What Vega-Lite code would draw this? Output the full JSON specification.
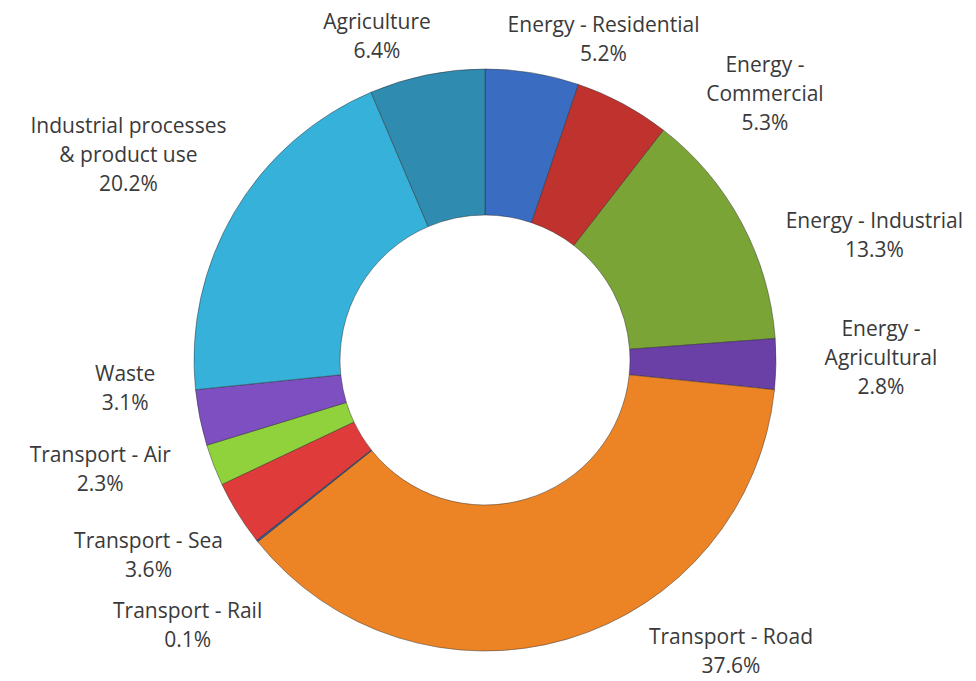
{
  "$schema": "https://vega.github.io/schema/vega-lite/v6.json",
  "width": 976,
  "height": 681,
  "autosize": {"type": "fit", "contains": "padding"},
  "padding": {"left": 0, "right": 6, "top": 31, "bottom": 0},
  "background": "white",
  "config": {"view": {"stroke": null}, "text": {"font": "Open Sans", "fontSize": 21, "lineBreak": "|", "lineHeight": 29, "fill": "#3a3a3a", "align": "center", "baseline": "middle"}},
  "data": {
    "values": [
      {"name": "Energy - Residential", "label": "Energy - Residential", "value": 5.2},
      {"name": "Energy - Commercial", "label": "Energy -|Commercial", "value": 5.3},
      {"name": "Energy - Industrial", "label": "Energy - Industrial", "value": 13.3},
      {"name": "Energy - Agricultural", "label": "Energy -|Agricultural", "value": 2.8},
      {"name": "Transport - Road", "label": "Transport - Road", "value": 37.6},
      {"name": "Transport - Rail", "label": "Transport - Rail", "value": 0.1},
      {"name": "Transport - Sea", "label": "Transport - Sea", "value": 3.6},
      {"name": "Transport - Air", "label": "Transport - Air", "value": 2.3},
      {"name": "Waste", "label": "Waste", "value": 3.1},
      {"name": "Industrial processes & product use", "label": "Industrial processes|& product use", "value": 20.2},
      {"name": "Agriculture", "label": "Agriculture", "value": 6.4}
    ]
  },
  "transform": [
    {"window": [{"op": "row_number", "as": "rank"}]},
    {"stack": "value", "groupby": [], "sort": [{"field": "rank", "order": "ascending"}], "as": ["v0", "v1"]},
    {"calculate": "(datum.v0 + datum.v1) / 2", "as": "mid"},
    {"calculate": "datum.label + '|' + format(datum.value, '.1f') + '%'", "as": "text"}
  ],
  "layer": [
    {
      "mark": {"type": "arc", "innerRadius": 145, "outerRadius": 291, "stroke": "#2a2a2a", "strokeWidth": 1, "strokeOpacity": 0.45},
      "encoding": {
        "theta": {"field": "v0", "type": "quantitative", "scale": {"domain": [0, 99.9], "nice": false, "zero": true}},
        "theta2": {"field": "v1"},
        "color": {
          "field": "name",
          "type": "nominal",
          "legend": null,
          "scale": {
            "domain": ["Energy - Residential", "Energy - Commercial", "Energy - Industrial", "Energy - Agricultural", "Transport - Road", "Transport - Rail", "Transport - Sea", "Transport - Air", "Waste", "Industrial processes & product use", "Agriculture"],
            "range": ["#3a6cc2", "#c0322e", "#7aa536", "#6a3fa6", "#ec8426", "#2c5a9e", "#df3b3a", "#8fd23c", "#7d4fc0", "#35b1da", "#2f8bb0"]
          }
        }
      }
    },
    {"transform": [{"filter": {"field": "name", "equal": "Energy - Residential"}}],
     "mark": {"type": "text", "radius": 341, "dx": 63, "dy": 2.5},
     "encoding": {"theta": {"field": "mid", "type": "quantitative"}, "text": {"field": "text"}}},
    {"transform": [{"filter": {"field": "name", "equal": "Energy - Commercial"}}],
     "mark": {"type": "text", "radius": 386, "dx": 97, "dy": 46},
     "encoding": {"theta": {"field": "mid", "type": "quantitative"}, "text": {"field": "text"}}},
    {"transform": [{"filter": {"field": "name", "equal": "Energy - Industrial"}}],
     "mark": {"type": "text", "radius": 410, "dx": 28, "dy": 55.5},
     "encoding": {"theta": {"field": "mid", "type": "quantitative"}, "text": {"field": "text"}}},
    {"transform": [{"filter": {"field": "name", "equal": "Energy - Agricultural"}}],
     "mark": {"type": "text", "radius": 396, "dx": 0, "dy": -36},
     "encoding": {"theta": {"field": "mid", "type": "quantitative"}, "text": {"field": "text"}}},
    {"transform": [{"filter": {"field": "name", "equal": "Transport - Road"}}],
     "mark": {"type": "text", "radius": 386, "dx": 137, "dy": -92},
     "encoding": {"theta": {"field": "mid", "type": "quantitative"}, "text": {"field": "text"}}},
    {"transform": [{"filter": {"field": "name", "equal": "Transport - Rail"}}],
     "mark": {"type": "text", "radius": 399, "dx": 15, "dy": 3.5},
     "encoding": {"theta": {"field": "mid", "type": "quantitative"}, "text": {"field": "text"}}},
    {"transform": [{"filter": {"field": "name", "equal": "Transport - Sea"}}],
     "mark": {"type": "text", "radius": 390, "dx": -5, "dy": -23.5},
     "encoding": {"theta": {"field": "mid", "type": "quantitative"}, "text": {"field": "text"}}},
    {"transform": [{"filter": {"field": "name", "equal": "Transport - Air"}}],
     "mark": {"type": "text", "radius": 404, "dx": -8, "dy": -49.5},
     "encoding": {"theta": {"field": "mid", "type": "quantitative"}, "text": {"field": "text"}}},
    {"transform": [{"filter": {"field": "name", "equal": "Waste"}}],
     "mark": {"type": "text", "radius": 361, "dx": -6, "dy": -56.5},
     "encoding": {"theta": {"field": "mid", "type": "quantitative"}, "text": {"field": "text"}}},
    {"transform": [{"filter": {"field": "name", "equal": "Industrial processes & product use"}}],
     "mark": {"type": "text", "radius": 414, "dx": 0, "dy": -23},
     "encoding": {"theta": {"field": "mid", "type": "quantitative"}, "text": {"field": "text"}}},
    {"transform": [{"filter": {"field": "name", "equal": "Agriculture"}}],
     "mark": {"type": "text", "radius": 340, "dx": -40, "dy": -3.5},
     "encoding": {"theta": {"field": "mid", "type": "quantitative"}, "text": {"field": "text"}}}
  ]
}
